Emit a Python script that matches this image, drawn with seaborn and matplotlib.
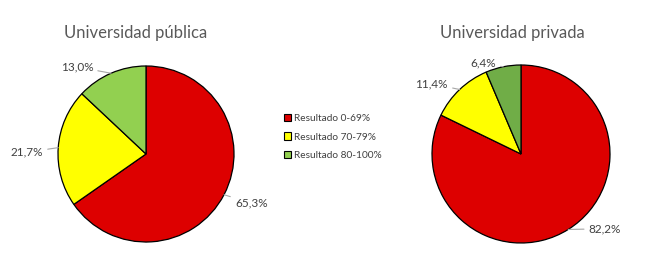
import numpy as np
import seaborn as sns
import matplotlib.pyplot as plt

# --- DATA ---
categories = ["Resultado 0-69%", "Resultado 70-79%", "Resultado 80-100%"]
publica = [65.3, 21.7, 13.0]
privada = [82.2, 11.4, 6.4]
titles = ["Universidad pública", "Universidad privada"]

colors_pub = ["#DD0000", "#FFFF00", "#92D050"]
colors_priv = ["#DD0000", "#FFFF00", "#70AD47"]

sns.set_theme(style="white")
plt.rcParams["font.family"] = ["Lato", "DejaVu Sans"]

fig = plt.figure(figsize=(6.47, 2.70), dpi=100)

# axes boxes in pixels: (center x, center y, radius)
W, H = 647, 270
boxes = [(146, 154, 88), (521, 154, 89)]

# where the labels go, relative to the radius, and alignment
label_pos = [
    [(1.01, -0.56, "left"), (-1.17, 0.02, "right"), (-0.60, 0.99, "right")],
    [(0.76, -0.84, "left"), (-0.82, 0.79, "right"), (-0.28, 1.02, "right")],
]

wedges_legend = None
for i, (vals, cols) in enumerate([(publica, colors_pub), (privada, colors_priv)]):
    cx, cy, r = boxes[i]
    ax = fig.add_axes([(cx - r) / W, (H - cy - r) / H, 2 * r / W, 2 * r / H])
    wedges, _ = ax.pie(vals, colors=cols, startangle=90, counterclock=False,
                       wedgeprops=dict(edgecolor="black", linewidth=0.9))
    ax.set_xlim(-1, 1)
    ax.set_ylim(-1, 1)
    ax.set_aspect("equal")
    ax.axis("off")
    if wedges_legend is None:
        wedges_legend = wedges

    for w, v, (tx, ty, ha) in zip(wedges, vals, label_pos[i]):
        mid = np.deg2rad((w.theta1 + w.theta2) / 2)
        ex, ey = np.cos(mid), np.sin(mid)
        txt = f"{v:.1f}".replace(".", ",") + "%"
        ax.annotate(txt, xy=(ex, ey), xytext=(tx, ty), ha=ha, va="center",
                    fontsize=8.5, color="#404040", annotation_clip=False,
                    arrowprops=dict(arrowstyle="-", color="#a6a6a6", lw=0.8,
                                    shrinkA=1, shrinkB=0))

fig.text(136 / W, 1 - 33 / H, titles[0], ha="center", va="center",
         fontsize=12, color="#595959")
fig.text(512 / W, 1 - 33 / H, titles[1], ha="center", va="center",
         fontsize=12, color="#595959")

leg = fig.legend(wedges_legend, categories, loc="center left",
                 bbox_to_anchor=(275 / W, 1 - 137 / H), frameon=False,
                 fontsize=7.3, handlelength=0.7, handleheight=0.7,
                 handletextpad=0.3, labelspacing=0.95)
for t in leg.get_texts():
    t.set_color("#404040")
for h in leg.legend_handles:
    h.set_linewidth(0.8)

fig.savefig("out.png", dpi=100)
